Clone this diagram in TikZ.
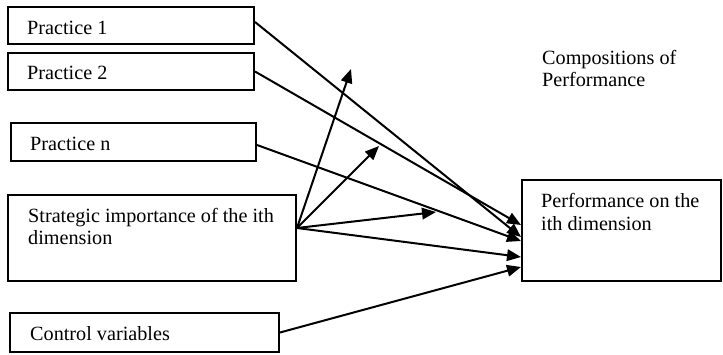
\documentclass[tikz,border=0pt]{standalone}
\usepackage{fontspec}
\setmainfont{Liberation Serif}
\usetikzlibrary{arrows.meta}
\begin{document}
\begin{tikzpicture}[x=1pt,y=-1pt,
  box/.style={draw,line width=2pt,rectangle,inner sep=0pt},
  lbl/.style={anchor=base west,inner sep=0pt,font=\fontsize{20.2}{22}\selectfont},
  link/.style={line width=2pt,-{Triangle[length=14pt,width=11.5pt]}},
  plain/.style={line width=2pt}]
\useasboundingbox (0,0) rectangle (723,355);
% boxes
\node[box,minimum width=246pt,minimum height=37pt] (p1) at (131,25.5) {};
\node[box,minimum width=246pt,minimum height=37pt] (p2) at (131,71.5) {};
\node[box,minimum width=245pt,minimum height=38pt] (pn) at (133.5,142) {};
\node[box,minimum width=288pt,minimum height=86pt] (s) at (152,238) {};
\node[box,minimum width=269pt,minimum height=39pt] (c) at (144.5,332.5) {};
\node[box,minimum width=199pt,minimum height=101pt] (perf) at (621.5,230.5) {};
% texts
\node[lbl] (t1) at (27,35) {Practice 1};
\node[lbl] (t2) at (27,80) {Practice 2};
\node[lbl] (tn) at (30,151) {Practice n};
\node[lbl] (ts1) at (28,223) {Strategic importance of the ith};
\node[lbl] (ts2) at (28,245) {dimension};
\node[lbl] (tc) at (30,341) {Control variables};
\node[lbl] (tp1) at (541,208) {Performance on the};
\node[lbl] (tp2) at (541,231) {ith dimension};
\node[lbl] (tk1) at (542,65) {Compositions of};
\node[lbl] (tk2) at (542,87) {Performance};
% free ends
\coordinate (e1) at (351,69);
\coordinate (e2) at (379,146);
\coordinate (e3) at (436,212);
% connectors
\draw[link] ([yshift=3.5pt]p1.east) -- ([yshift=-6.5pt]perf.west);
\draw[link] (p2.east) -- ([yshift=5.5pt]perf.west);
\draw[link] ([yshift=-3pt]pn.east) -- ([yshift=-10.5pt]perf.west);
\draw[link] ([yshift=10pt]s.east) -- ([yshift=-26.5pt]perf.west);
\draw[link] (c.east) -- ([yshift=-36.5pt]perf.west);
\draw[link] ([yshift=10pt]s.east) -- (e1);
\draw[link] ([yshift=10pt]s.east) -- (e2);
\draw[link] ([yshift=10pt]s.east) -- (e3);
\end{tikzpicture}
\end{document}
